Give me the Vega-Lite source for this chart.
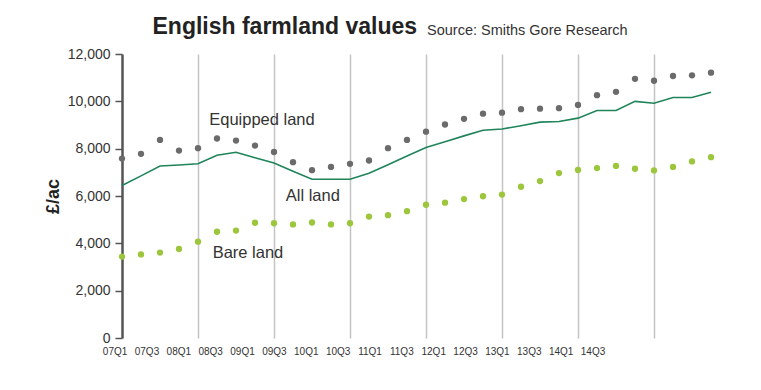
{
  "$schema": "https://vega.github.io/schema/vega-lite/v6.json",
  "autosize": {"type": "none"},
  "padding": {"left": 122, "top": 54, "right": 31, "bottom": 52},
  "width": 608,
  "height": 284,
  "background": "white",
  "config": {"view": {"stroke": null}, "font": "Liberation Sans"},
  "title": {"text": "English farmland values", "anchor": "start", "frame": "group", "dx": 30.5, "dy": 20.5, "fontSize": 23, "fontWeight": "bold", "color": "#222222", "font": "Liberation Sans"},
  "datasets": {
    "farm": [
      {"q": "07Q1", "i": 0, "Equipped": 7580, "Bare": 3440, "All": 6440},
      {"q": "07Q2", "i": 1, "Equipped": 7780, "Bare": 3530, "All": 6850},
      {"q": "07Q3", "i": 2, "Equipped": 8370, "Bare": 3610, "All": 7270},
      {"q": "07Q4", "i": 3, "Equipped": 7920, "Bare": 3760, "All": 7310},
      {"q": "08Q1", "i": 4, "Equipped": 8020, "Bare": 4070, "All": 7360},
      {"q": "08Q2", "i": 5, "Equipped": 8430, "Bare": 4490, "All": 7720},
      {"q": "08Q3", "i": 6, "Equipped": 8340, "Bare": 4540, "All": 7850},
      {"q": "08Q4", "i": 7, "Equipped": 8130, "Bare": 4870, "All": 7620},
      {"q": "09Q1", "i": 8, "Equipped": 7860, "Bare": 4850, "All": 7390},
      {"q": "09Q2", "i": 9, "Equipped": 7430, "Bare": 4800, "All": 7050},
      {"q": "09Q3", "i": 10, "Equipped": 7090, "Bare": 4880, "All": 6710},
      {"q": "09Q4", "i": 11, "Equipped": 7230, "Bare": 4800, "All": 6710},
      {"q": "10Q1", "i": 12, "Equipped": 7360, "Bare": 4850, "All": 6710},
      {"q": "10Q2", "i": 13, "Equipped": 7500, "Bare": 5130, "All": 6960},
      {"q": "10Q3", "i": 14, "Equipped": 8020, "Bare": 5190, "All": 7320},
      {"q": "10Q4", "i": 15, "Equipped": 8370, "Bare": 5360, "All": 7690},
      {"q": "11Q1", "i": 16, "Equipped": 8720, "Bare": 5630, "All": 8050},
      {"q": "11Q2", "i": 17, "Equipped": 9020, "Bare": 5720, "All": 8290},
      {"q": "11Q3", "i": 18, "Equipped": 9260, "Bare": 5870, "All": 8540},
      {"q": "11Q4", "i": 19, "Equipped": 9480, "Bare": 5990, "All": 8780},
      {"q": "12Q1", "i": 20, "Equipped": 9520, "Bare": 6060, "All": 8830},
      {"q": "12Q2", "i": 21, "Equipped": 9670, "Bare": 6390, "All": 8970},
      {"q": "12Q3", "i": 22, "Equipped": 9690, "Bare": 6630, "All": 9120},
      {"q": "12Q4", "i": 23, "Equipped": 9710, "Bare": 6970, "All": 9150},
      {"q": "13Q1", "i": 24, "Equipped": 9850, "Bare": 7100, "All": 9290},
      {"q": "13Q2", "i": 25, "Equipped": 10260, "Bare": 7180, "All": 9610},
      {"q": "13Q3", "i": 26, "Equipped": 10400, "Bare": 7270, "All": 9610},
      {"q": "13Q4", "i": 27, "Equipped": 10950, "Bare": 7150, "All": 10000},
      {"q": "14Q1", "i": 28, "Equipped": 10870, "Bare": 7080, "All": 9920},
      {"q": "14Q2", "i": 29, "Equipped": 11070, "Bare": 7230, "All": 10160},
      {"q": "14Q3", "i": 30, "Equipped": 11100, "Bare": 7460, "All": 10160},
      {"q": "14Q4", "i": 31, "Equipped": 11210, "Bare": 7640, "All": 10380}
    ],
    "labels": [
      {"k": 0, "q": "07Q1"}, {"k": 1, "q": "07Q3"}, {"k": 2, "q": "08Q1"}, {"k": 3, "q": "08Q3"},
      {"k": 4, "q": "09Q1"}, {"k": 5, "q": "09Q3"}, {"k": 6, "q": "10Q1"}, {"k": 7, "q": "10Q3"},
      {"k": 8, "q": "11Q1"}, {"k": 9, "q": "11Q3"}, {"k": 10, "q": "12Q1"}, {"k": 11, "q": "12Q3"},
      {"k": 12, "q": "13Q1"}, {"k": 13, "q": "13Q3"}, {"k": 14, "q": "14Q1"}, {"k": 15, "q": "14Q3"}
    ],
    "notes": [
      {"label": "Equipped land", "i": 4.59, "v": 9211},
      {"label": "All land", "i": 8.62, "v": 6013},
      {"label": "Bare land", "i": 4.77, "v": 3604}
    ]
  },
  "layer": [
    {
      "data": {"name": "farm"},
      "layer": [
        {
          "mark": {"type": "point", "filled": true, "size": 40, "color": "#6b6b6b", "opacity": 1},
          "encoding": {
            "x": {"field": "i", "type": "quantitative", "title": "Source: Smiths Gore Research", "scale": {"domain": [0, 32], "nice": false, "zero": false},
              "axis": {"orient": "top", "values": [4, 8, 12, 16, 20, 24, 28], "grid": true, "gridColor": "#c4c4c4", "gridWidth": 1.5, "labels": false, "ticks": false, "domain": false,
                "titleFontSize": 14.5, "titleFontWeight": "normal", "titleColor": "#333333", "titleFont": "Liberation Sans", "titleX": 304.5, "titleY": -19.5, "titleAlign": "left", "titleBaseline": "alphabetic", "titleAnchor": null}},
            "y": {"field": "Equipped", "type": "quantitative", "title": "£/ac", "scale": {"domain": [0, 12000], "nice": false},
              "axis": {"values": [0, 2000, 4000, 6000, 8000, 10000, 12000], "format": ",.0f", "grid": false, "domain": true, "domainColor": "#555555", "domainWidth": 2.5, "ticks": true, "tickSize": 7, "tickColor": "#555555", "tickWidth": 1.5,
                "labelFontSize": 14, "labelColor": "#333333", "labelPadding": 5, "titleFontSize": 18, "titleFontWeight": "bold", "titleColor": "#222222", "titlePadding": 5}}
          }
        },
        {
          "mark": {"type": "point", "filled": true, "size": 40, "color": "#9cc63c", "opacity": 1},
          "encoding": {
            "x": {"field": "i", "type": "quantitative", "title": "Source: Smiths Gore Research"},
            "y": {"field": "Bare", "type": "quantitative", "title": "£/ac"}
          }
        },
        {
          "mark": {"type": "line", "color": "#1f845a", "strokeWidth": 1.6},
          "encoding": {
            "x": {"field": "i", "type": "quantitative", "title": "Source: Smiths Gore Research"},
            "y": {"field": "All", "type": "quantitative", "title": "£/ac"}
          }
        },
        {
          "data": {"name": "notes"},
          "mark": {"type": "text", "align": "left", "baseline": "middle", "fontSize": 16.5, "color": "#333333", "font": "Liberation Sans"},
          "encoding": {
            "x": {"field": "i", "type": "quantitative", "title": "Source: Smiths Gore Research"},
            "y": {"field": "v", "type": "quantitative", "title": "£/ac"},
            "text": {"field": "label"}
          }
        }
      ]
    },
    {
      "data": {"name": "labels"},
      "mark": {"type": "point", "opacity": 0},
      "encoding": {
        "x": {"field": "k", "type": "quantitative", "scale": {"domain": [0, 19.083], "nice": false, "zero": false},
          "axis": {"orient": "bottom", "values": [0, 1, 2, 3, 4, 5, 6, 7, 8, 9, 10, 11, 12, 13, 14, 15],
            "labelExpr": "['07Q1','07Q3','08Q1','08Q3','09Q1','09Q3','10Q1','10Q3','11Q1','11Q3','12Q1','12Q3','13Q1','13Q3','14Q1','14Q3'][datum.value]",
            "labelAngle": 0, "labelAlign": "center", "labelFlush": false, "labelOverlap": false, "domain": false, "ticks": false, "grid": false, "labelFontSize": 10, "labelColor": "#333333", "labelPadding": 8, "labelOffset": -7.4, "title": null}}
      }
    }
  ],
  "resolve": {"scale": {"x": "independent"}, "axis": {"x": "independent"}}
}
